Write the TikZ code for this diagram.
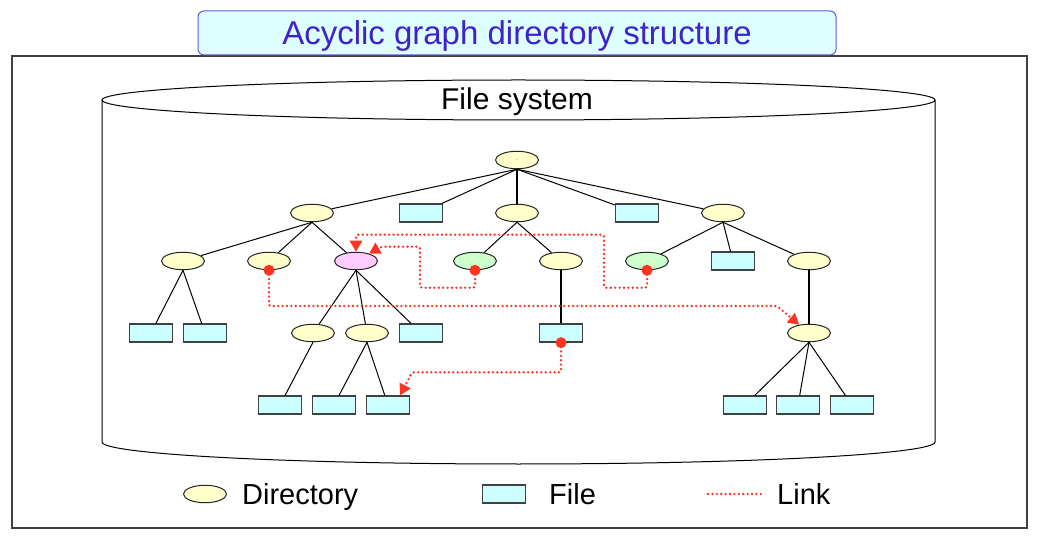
\documentclass[tikz,border=0pt]{standalone}
\usepackage{fontspec}
\setmainfont{Liberation Sans}
\usetikzlibrary{arrows.meta,shapes.geometric}

\definecolor{dirfill}{HTML}{FFFFCC}
\definecolor{sharefill}{HTML}{FFCCFF}
\definecolor{linkfill}{HTML}{CCFFCC}
\definecolor{filefill}{HTML}{CCFFFF}
\definecolor{linkred}{HTML}{FF3322}
\definecolor{titleblue}{HTML}{3F22CC}
\definecolor{titleline}{HTML}{6655DD}
\definecolor{titlefill}{HTML}{DDFFFF}
\definecolor{boxgray}{HTML}{404040}

\tikzset{
  dir/.style={ellipse,draw=black!85,fill=dirfill,line width=1pt,
    minimum width=43pt,minimum height=17.5pt,inner sep=0pt},
  file/.style={rectangle,draw=black!75,fill=filefill,line width=1.3pt,
    minimum width=43pt,minimum height=18pt,inner sep=0pt},
  tree/.style={line width=1pt},
  trunk/.style={line width=2pt},
  dotted red/.style={draw=linkred,line width=2.6pt,line cap=round,
    dash pattern=on 0pt off 4.4pt},
  link/.style={dotted red,rounded corners=2pt,
    -{Triangle[length=11pt,width=12pt]}},
  legend/.style={inner sep=0pt,font=\fontsize{29}{32}\selectfont,
    text height=21pt,text depth=0pt},
}

\begin{document}
\begin{tikzpicture}[x=1pt,y=-1pt]
  \useasboundingbox (0,0) rectangle (1042,537);
  \draw[boxgray,line width=1.5pt] (12,56) rectangle (1027,528);
  \node[draw=titleline,fill=titlefill,rounded corners=6pt,line width=1pt,
    minimum width=638pt,minimum height=44pt,inner sep=0pt,text=titleblue,
    font=\fontsize{33}{36}\selectfont,text height=23pt,text depth=0pt]
    (title) at (517,33) {Acyclic graph directory structure};

  % file system drum
  \draw[line width=1pt] (102,100) -- (102,442)
    arc[start angle=180,end angle=0,x radius=416.5,y radius=22] -- (935,100);
  \draw[line width=1pt] (518.5,100) ellipse [x radius=416.5,y radius=20];
  \node[inner sep=0pt,font=\fontsize{30}{33}\selectfont,
    text height=21pt,text depth=0pt] (fs) at (517,99) {File system};

  % directories and files
  \node[dir,font=\fontsize{5}{5}\selectfont] (root) at (517,160) {.};
  \node[dir] (d1) at (312,213) {};
  \node[file] (f1) at (421,213) {};
  \node[dir] (d2) at (517,213) {};
  \node[file] (f2) at (637,213) {};
  \node[dir] (d3) at (723,213) {};

  \node[dir] (d11) at (183,261) {};
  \node[dir] (d12) at (269,261) {};
  \node[dir,fill=sharefill] (d13) at (356,261) {};
  \node[dir,fill=linkfill] (d21) at (475,261) {};
  \node[dir] (d22) at (561,261) {};
  \node[dir,fill=linkfill] (d31) at (647,261) {};
  \node[file] (f31) at (733,261) {};
  \node[dir] (d32) at (809,261) {};

  \node[file] (f111) at (151,333) {};
  \node[file] (f112) at (205,333) {};
  \node[dir] (d131) at (313,333) {};
  \node[dir] (d132) at (367,333) {};
  \node[file] (f133) at (421,333) {};
  \node[file] (f221) at (561,333) {};
  \node[dir] (d321) at (809,333) {};

  \node[file] (f1311) at (280,405) {};
  \node[file] (f1321) at (334,405) {};
  \node[file] (f1322) at (388,405) {};
  \node[file] (f3211) at (745,405) {};
  \node[file] (f3212) at (798,405) {};
  \node[file] (f3213) at (852,405) {};

  \path[tree] (root.south) edge (d1) edge (f1) edge (f2) edge (d3);
  \path[trunk] (root.south) edge (d2);
  \path[tree] (d1.south) edge (d11) edge (d12) edge (d13)
              (d2.south) edge (d21) edge (d22)
              (d3.south) edge (d31) edge (f31) edge (d32)
              (d11.south) edge (f111) edge (f112)
              (d13.south) edge (d131) edge (d132) edge (f133)
              (d131.south) edge (f1311)
              (d132.south) edge (f1321) edge (f1322)
              (d321.south) edge (f3211) edge (f3212) edge (f3213);
  \path[trunk] (d22.south) edge (f221)
               (d32.south) edge (d321);

  % links
  \draw[link] (d12.south) |- (777,306) -- (d321);
  \draw[link] (d21.south) -- ++(0,17.5) -| (420,246.7) -- (381,246.7) -- (d13);
  \draw[link] (d31.south) -- ++(0,17.5) -| (604,234.7) -| (d13);
  \draw[link] (f221.south) |- (412,372.3) -- ([xshift=-10pt]f1322.north east);
  \foreach \n in {d12,d21,d31,f221}
    \fill[linkred] (\n.south) circle (5.5pt);

  % legend
  \node[dir] (legdir) at (205,494) {};
  \node[legend,anchor=west] (legdirtext) at (242,494) {Directory};
  \node[file] (legfile) at (504,494) {};
  \node[legend,anchor=west] (legfiletext) at (549,494) {File};
  \coordinate (leglinka) at (708,494);
  \coordinate (leglinkb) at (762,494);
  \draw[dotted red] (leglinka) -- (leglinkb);
  \node[legend,anchor=west] (leglinktext) at (777,494) {Link};
\end{tikzpicture}
\end{document}
